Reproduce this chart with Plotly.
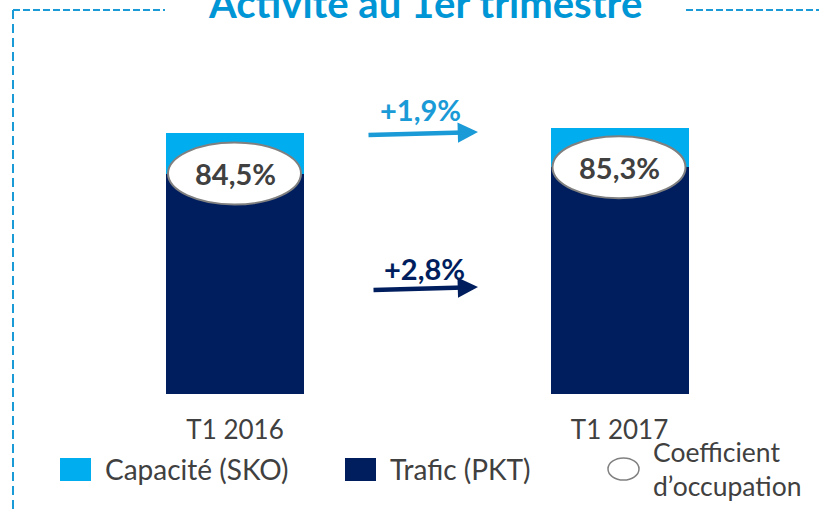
import plotly.graph_objects as go

# ---- data ----
periods = ["T1 2016", "T1 2017"]
capacity_sko = [100.0, 101.9]      # indexed capacity (SKO)
traffic_pkt = [84.5, 86.9]         # indexed traffic (PKT)
load_factor = [84.5, 85.3]         # coefficient d'occupation (%)
growth_capacity = "+1,9%"
growth_traffic = "+2,8%"
title_text = "Activité au 1er trimestre"
legend_labels = ["Capacité (SKO)", "Trafic (PKT)", "Coefficient<br>d’occupation"]

W, H = 819, 514
def PX(x): return x / W
def PY(y): return 1 - y / H

C_LIGHT = "#00AEEF"
C_NAVY = "#001E5E"
C_ARROW_LIGHT = "#1A9AD6"
C_TEXT = "#404040"
FONT = "Lato"

remainder = [c - t for c, t in zip(capacity_sko, traffic_pkt)]
xs = list(range(len(periods)))

fig = go.Figure()
fig.add_trace(go.Bar(x=xs, y=traffic_pkt, name=legend_labels[1], marker_color=C_NAVY,
                     width=0.359, showlegend=False, marker_line_width=0))
fig.add_trace(go.Bar(x=xs, y=remainder, name=legend_labels[0], marker_color=C_LIGHT,
                     width=0.359, showlegend=False, marker_line_width=0))

shapes = []
annotations = []

# ellipses with load factors
for i, (t, lf) in enumerate(zip(traffic_pkt, load_factor)):
    shapes.append(dict(type="circle", xref="x", yref="y", xsizemode="pixel", ysizemode="pixel",
                       xanchor=i, yanchor=t, x0=-67, x1=66, y0=-31, y1=31,
                       fillcolor="white", line=dict(color="#808080", width=2)))
    annotations.append(dict(x=i, y=t, xref="x", yref="y", showarrow=False,
                            xanchor="center", yanchor="middle",
                            text=f"<b>{lf:.1f}%</b>".replace(".", ","),
                            font=dict(family=FONT, size=29, color=C_TEXT)))

# growth arrows
annotations.append(dict(x=PX(478), y=PY(132), xref="paper", yref="paper", text="",
                        showarrow=True, axref="pixel", ayref="pixel", ax=-111, ay=3,
                        arrowhead=2, arrowsize=0.9, arrowwidth=4.5, arrowcolor=C_ARROW_LIGHT, standoff=0))
annotations.append(dict(x=PX(421), y=PY(109), xref="paper", yref="paper", showarrow=False,
                        xanchor="center", yanchor="middle",
                        text=f"<b>{growth_capacity}</b>",
                        font=dict(family=FONT, size=29, color=C_ARROW_LIGHT)))
annotations.append(dict(x=PX(478), y=PY(287), xref="paper", yref="paper", text="",
                        showarrow=True, axref="pixel", ayref="pixel", ax=-106, ay=3,
                        arrowhead=2, arrowsize=0.9, arrowwidth=4.5, arrowcolor=C_NAVY, standoff=0))
annotations.append(dict(x=PX(424), y=PY(268), xref="paper", yref="paper", showarrow=False,
                        xanchor="center", yanchor="middle",
                        text=f"<b>{growth_traffic}</b>",
                        font=dict(family=FONT, size=29, color=C_NAVY)))

# title (clipped at top, as in the reference)
annotations.append(dict(x=PX(425), y=PY(3), xref="paper", yref="paper", showarrow=False,
                        text=f"<b>{title_text}</b>", xanchor="center", yanchor="middle",
                        font=dict(family=FONT, size=40, color="#0096D6")))

# dashed frame
dash_style = dict(color=C_ARROW_LIGHT, width=2, dash="7px,3px")
shapes.append(dict(type="line", xref="paper", yref="paper", x0=PX(13), x1=PX(165), y0=PY(10), y1=PY(10), line=dash_style))
shapes.append(dict(type="line", xref="paper", yref="paper", x0=PX(686), x1=PX(819), y0=PY(10), y1=PY(10), line=dash_style))
shapes.append(dict(type="line", xref="paper", yref="paper", x0=PX(13), x1=PX(13), y0=PY(10), y1=PY(514),
                   line=dict(color=C_ARROW_LIGHT, width=2, dash="9px,5px")))

# manual legend
shapes.append(dict(type="rect", xref="paper", yref="paper", x0=PX(60), x1=PX(91), y0=PY(481), y1=PY(458),
                   fillcolor=C_LIGHT, line_width=0))
shapes.append(dict(type="rect", xref="paper", yref="paper", x0=PX(345), x1=PX(376), y0=PY(481), y1=PY(458),
                   fillcolor=C_NAVY, line_width=0))
shapes.append(dict(type="circle", xref="paper", yref="paper", x0=PX(608), x1=PX(639), y0=PY(480), y1=PY(458),
                   fillcolor="white", line=dict(color="#808080", width=1.5)))
for xl, lab, fs in zip([103, 388, 651], legend_labels, [28, 28, 26.5]):
    annotations.append(dict(x=PX(xl), y=PY(469), xref="paper", yref="paper", showarrow=False,
                            xanchor="left", yanchor="middle", text=lab, align="left",
                            font=dict(family=FONT, size=fs, color=C_TEXT)))

fig.update_layout(
    width=W, height=H, margin=dict(l=0, r=0, t=0, b=0),
    paper_bgcolor="white", plot_bgcolor="white",
    barmode="stack", bargap=0, showlegend=False,
    shapes=shapes, annotations=annotations,
    xaxis=dict(domain=[42.75 / W, 811.75 / W], range=[-0.5, 1.5], tickmode="array",
               tickvals=xs, ticktext=periods, showgrid=False, zeroline=False, showline=False,
               ticks="", ticklabelstandoff=18, tickfont=dict(family=FONT, size=26, color=C_TEXT)),
    yaxis=dict(domain=[1 - 394 / H, 1 - 80.8 / H], range=[0, 120], showgrid=False,
               zeroline=False, showline=False, showticklabels=False, ticks=""),
)

fig.write_html("out.html", config={"displayModeBar": False},
               post_script="document.body.style.margin='0';document.body.style.padding='0';")
